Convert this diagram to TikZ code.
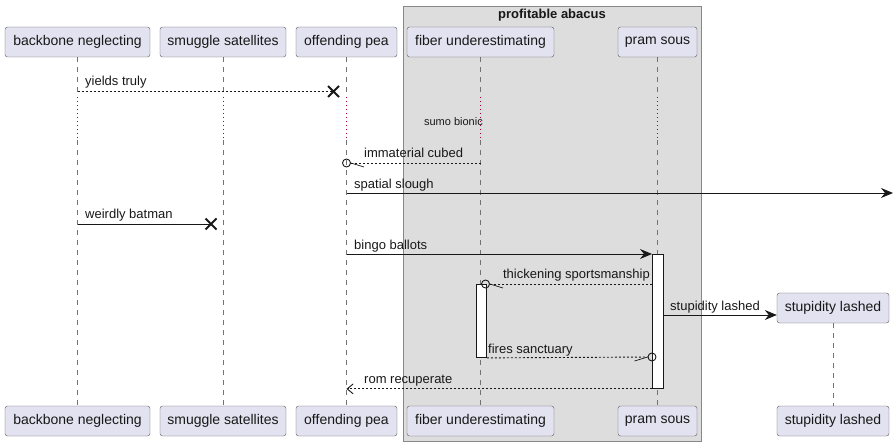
\documentclass[tikz,border=0pt]{standalone}
\usepackage{fontspec}
\setmainfont{Liberation Sans}
\usetikzlibrary{arrows.meta}
\definecolor{actorfill}{HTML}{E2E2F0}
\definecolor{actorline}{HTML}{5B5B5B}
\definecolor{groupfill}{HTML}{DDDDDD}
\definecolor{groupline}{HTML}{888888}
\definecolor{delayred}{HTML}{A80036}
\definecolor{ink}{HTML}{181818}
\tikzset{
actor/.style={draw=actorline, fill=actorfill, rounded corners=2.5pt,
    minimum height=30pt, inner sep=0pt, text=ink,
    font=\fontsize{14}{16}\selectfont},
abacus/.style={draw=groupline, fill=groupfill, anchor=north west, inner sep=0pt},
lifeline/.style={draw=black!55, dash pattern=on 5pt off 5pt},
delayline/.style={draw=delayred, dash pattern=on 1pt off 3pt},
msg/.style={draw=ink, line width=0.9pt},
reply/.style={msg, dash pattern=on 2pt off 2pt},
lbl/.style={font=\fontsize{13}{15}\selectfont, text=ink, inner sep=0pt, anchor=base west},
bar/.style={draw=ink, fill=white, line width=0.9pt},
tip/.style={-{Stealth[length=12pt, width=10pt, inset=4pt]}},
opentip/.style={-{Straight Barb[length=6pt, width=10pt, line width=0.9pt]}},
ring/.style={draw=ink, line width=0.9pt, circle, inner sep=0pt, minimum size=8pt},
cross/.style={draw=ink, line width=2pt}
}

\begin{document}
\begin{tikzpicture}[x=1pt, y=-1pt]
\useasboundingbox (0,0) rectangle (894,446);
\node[abacus, minimum width=298pt, minimum height=435pt] (grp) at (403,6) {};
\node[font=\bfseries\fontsize{13}{15}\selectfont, text=ink, anchor=base] (grptitle) at (552,19) {profitable abacus};

\node[actor, minimum width=145pt] (bn) at (77.5,42) {backbone neglecting};
\node[actor, minimum width=126pt] (ss) at (223,42) {smuggle satellites};
\node[actor, minimum width=101pt] (op) at (346.5,42) {offending pea};
\node[actor, minimum width=147pt] (fu) at (480.5,42) {fiber underestimating};
\node[actor, minimum width=79pt] (ps) at (657.5,42) {pram sous};
\node[actor, minimum width=145pt] (bnE) at (77.5,421) {backbone neglecting};
\node[actor, minimum width=126pt] (ssE) at (223,421) {smuggle satellites};
\node[actor, minimum width=101pt] (opE) at (346.5,421) {offending pea};
\node[actor, minimum width=147pt] (fuE) at (480.5,421) {fiber underestimating};
\node[actor, minimum width=79pt] (psE) at (657.5,421) {pram sous};
\node[actor, minimum width=112pt] (sl) at (833,308) {stupidity lashed};
\node[actor, minimum width=112pt] (slE) at (833,421) {stupidity lashed};

\coordinate (dtop) at (0,97);
\coordinate (dbot) at (0,140);
\foreach \p/\q in {bn/bnE, ss/ssE, op/opE, fu/fuE, ps/psE}{
  \draw[lifeline] (\p.south) -- (\p |- dtop);
  \draw[delayline] (\p |- dtop) -- (\p |- dbot);
  \draw[lifeline] (\p |- dbot) -- (\q.north);
}
\draw[lifeline] (sl.south) -- (slE.north);

\node[font=\fontsize{11}{13}\selectfont, text=ink, inner sep=0pt, anchor=east] (sumo) at (483,122) {sumo bionic};

% activations
\node[bar, anchor=north west, minimum width=11pt, minimum height=134pt] (psbar) at (652,254) {};
\node[bar, anchor=north west, minimum width=10pt, minimum height=73pt] (fubar) at (476,284) {};

\coordinate (yx) at (333.5,91.5);
\draw[reply] (bn |- yx) -- (yx);
\draw[cross] ([shift={(-5.5,-5.5)}]yx) -- ([shift={(5.5,5.5)}]yx) ([shift={(-5.5,5.5)}]yx) -- ([shift={(5.5,-5.5)}]yx);
\node[lbl] (m1) at (85,86) {yields truly};

\node[ring] (c1) at (346.5,163) {};
\draw[reply] (fu |- c1) -- (c1);
\draw[draw=ink, line width=0.7pt] (c1.east) -- ++(13,4);
\node[lbl] (m2) at (364,158) {immaterial cubed};

\coordinate (edge) at (893,193);
\draw[msg, tip] (op |- edge) -- (edge);
\node[lbl] (m3) at (354,189) {spatial slough};

\coordinate (wx) at (211,224);
\draw[msg] (bn |- wx) -- (wx);
\draw[cross] ([shift={(-5.5,-5.5)}]wx) -- ([shift={(5.5,5.5)}]wx) ([shift={(-5.5,5.5)}]wx) -- ([shift={(5.5,-5.5)}]wx);
\node[lbl] (m4) at (85,219) {weirdly batman};

\draw[msg, tip] (op |- psbar.north) -- (psbar.north west);
\node[lbl] (m5) at (354,250) {bingo ballots};

\node[ring] (c2) at (485.5,284) {};
\draw[reply] (psbar.west |- c2) -- (c2);
\draw[draw=ink, line width=0.7pt] (c2.east) -- ++(13,4);
\node[lbl, anchor=base east] (m6) at (650,279) {thickening sportsmanship};

\coordinate (slrow) at (0,315);
\draw[msg, tip] (psbar.east |- slrow) -- (sl.west |- slrow);
\node[lbl] (m7) at (670,310) {stupidity lashed};

\node[ring] (c3) at (652,357) {};
\draw[reply] (fubar.south east) -- (c3);
\draw[draw=ink, line width=0.7pt] (c3.west) -- ++(-13,4);
\node[lbl] (m8) at (488,353) {fires sanctuary};

\draw[reply, opentip] (psbar.south west) -- (op |- psbar.south);
\node[lbl] (m9) at (364,383) {rom recuperate};
\end{tikzpicture}
\end{document}
